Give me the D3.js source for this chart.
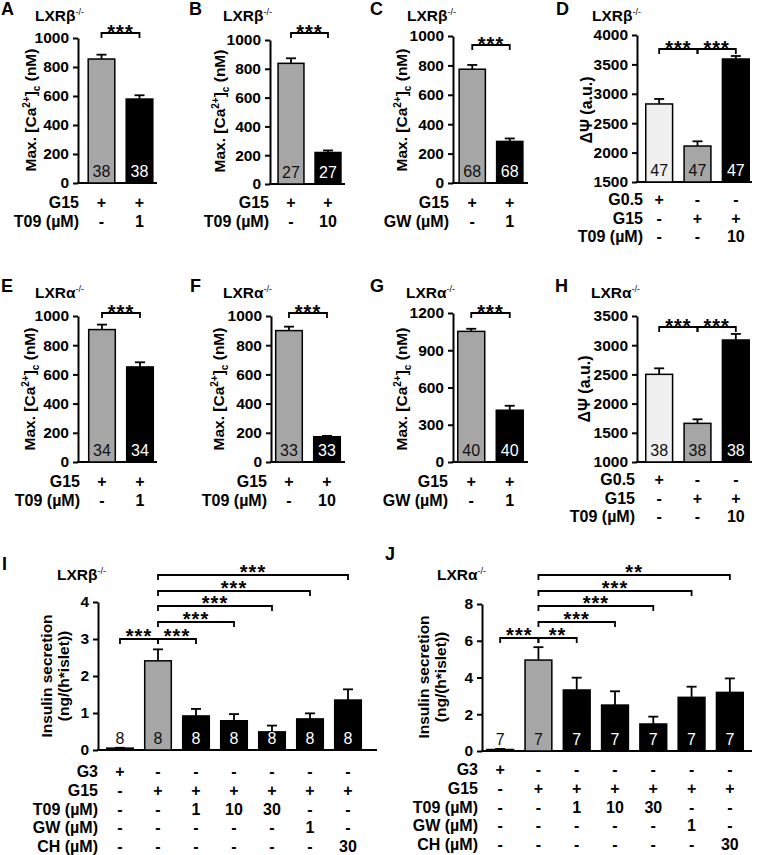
<!DOCTYPE html>
<html>
<head>
<meta charset="utf-8">
<script src="https://cdn.jsdelivr.net/npm/d3@7"></script>
<style>
  body { margin: 0; background: #fff; }
  svg text { font-family: "Liberation Sans", Arial, sans-serif; }
</style>
</head>
<body>
<script>
// ---- data ----
const valuesA = [855, 579], errorsA = [30, 26], nA = [38, 38];
const valuesB = [838, 219], errorsB = [35, 14], nB = [27, 27];
const valuesC = [774, 283], errorsC = [29, 20], nC = [68, 68];
const valuesD = [2827, 2112, 3592], errorsD = [85, 80, 51], nD = [47, 47, 47];
const valuesE = [907, 651], errorsE = [34, 32], nE = [34, 34];
const valuesF = [900, 173], errorsF = [27, 6], nF = [33, 33];
const valuesG = [1052, 417], errorsG = [21, 36], nG = [40, 40];
const valuesH = [2501, 1662, 3089], errorsH = [103, 69, 103], nH = [38, 38, 38];
const valuesI = [0.05, 2.41, 0.92, 0.79, 0.49, 0.84, 1.35];
const errorsI = [0.01, 0.31, 0.19, 0.18, 0.17, 0.15, 0.29];
const nI = [8, 8, 8, 8, 8, 8, 8];
const valuesJ = [0.08, 4.95, 3.32, 2.5, 1.47, 2.92, 3.19];
const errorsJ = [0.03, 0.7, 0.67, 0.75, 0.4, 0.58, 0.76];
const nJ = [7, 7, 7, 7, 7, 7, 7];

const ticksCa = [0, 200, 400, 600, 800, 1000];
const ticksG = [0, 300, 600, 900, 1200];
const ticksD = [1500, 2000, 2500, 3000, 3500, 4000];
const ticksH = [1000, 1500, 2000, 2500, 3000, 3500];
const ticksI = [0, 1, 2, 3, 4];
const ticksJ = [0, 2, 4, 6, 8];

const rowNames2 = ['G15', 'T09 (µM)'];
const rowNamesGW = ['G15', 'GW (µM)'];
const rowNames3 = ['G0.5', 'G15', 'T09 (µM)'];
const rowNames7 = ['G3', 'G15', 'T09 (µM)', 'GW (µM)', 'CH (µM)'];
const cellsT1 = [['+', '+'], ['-', '1']];
const cellsT10 = [['+', '+'], ['-', '10']];
const cellsGW = [['+', '+'], ['-', '1']];
const cells3 = [['+', '-', '-'], ['-', '+', '+'], ['-', '-', '10']];
const cells7 = [
  ['+', '-', '-', '-', '-', '-', '-'],
  ['-', '+', '+', '+', '+', '+', '+'],
  ['-', '-', '1', '10', '30', '-', '-'],
  ['-', '-', '-', '-', '-', '1', '-'],
  ['-', '-', '-', '-', '-', '-', '30']
];

const colors2 = ['gray', 'black'];
const colors3 = ['light', 'gray', 'black'];
const colors7 = ['black', 'gray', 'black', 'black', 'black', 'black', 'black'];

const sig2 = [{from: 0, to: 1, label: '***', level: 0}];
const sig3 = [{from: 0, to: 1, label: '***', level: 0}, {from: 1, to: 2, label: '***', level: 0}];
const sigI = [
  {from: 0, to: 1, label: '***', level: 0}, {from: 1, to: 2, label: '***', level: 0},
  {from: 1, to: 3, label: '***', level: 1}, {from: 1, to: 4, label: '***', level: 2},
  {from: 1, to: 5, label: '***', level: 3}, {from: 1, to: 6, label: '***', level: 4}
];
const sigJ = [
  {from: 0, to: 1, label: '***', level: 0}, {from: 1, to: 2, label: '**', level: 0},
  {from: 1, to: 3, label: '***', level: 1}, {from: 1, to: 4, label: '***', level: 2},
  {from: 1, to: 5, label: '***', level: 3}, {from: 1, to: 6, label: '**', level: 4}
];

// ---- styles / layout ----
const fills = {light: '#f0f0f0', gray: '#a6a6a6', black: '#000'};

const panels = [
  {letter: 'A', ko: 'β', v: valuesA, e: errorsA, n: nA, c: colors2, rows: rowNames2, cells: cellsT1, sig: sig2,
   domain: [0, 1000], ticks: ticksCa, ylab: 'ca',
   x0: 78, band: [82.5, 158.5], yr: [183, 38], baseEnd: 157, sigY: [33], let: [1, 15], tit: [35, 21],
   rowX: 79, rowY0: 208, rowStep: 19, ylabX: 36, ylabY: 110},
  {letter: 'B', ko: 'β', v: valuesB, e: errorsB, n: nB, c: colors2, rows: rowNames2, cells: cellsT10, sig: sig2,
   domain: [0, 1000], ticks: ticksCa, ylab: 'ca',
   x0: 270, band: [272.5, 346.5], yr: [184, 40], baseEnd: 345, sigY: [33], let: [189, 15], tit: [223, 21],
   rowX: 269, rowY0: 208, rowStep: 19, ylabX: 225, ylabY: 111},
  {letter: 'C', ko: 'β', v: valuesC, e: errorsC, n: nC, c: colors2, rows: rowNamesGW, cells: cellsGW, sig: sig2,
   domain: [0, 1000], ticks: ticksCa, ylab: 'ca',
   x0: 453, band: [453.5, 528.5], yr: [183, 36], baseEnd: 528, sigY: [45], let: [370, 15], tit: [407, 21],
   rowX: 449, rowY0: 208, rowStep: 19, ylabX: 407, ylabY: 110},
  {letter: 'D', ko: 'β', v: valuesD, e: errorsD, n: nD, c: colors3, rows: rowNames3, cells: cells3, sig: sig3,
   domain: [1500, 4000], ticks: ticksD, ylab: 'psi',
   x0: 637, band: [640, 755], yr: [182, 35], baseEnd: 752, sigY: [49], let: [556, 15], tit: [592, 21],
   rowX: 643, rowY0: 205, rowStep: 18.5, ylabX: 592, ylabY: 110},
  {letter: 'E', ko: 'α', v: valuesE, e: errorsE, n: nE, c: colors2, rows: rowNames2, cells: cellsT1, sig: sig2,
   domain: [0, 1000], ticks: ticksCa, ylab: 'ca',
   x0: 78, band: [83, 159], yr: [462, 316], baseEnd: 157, sigY: [313], let: [1, 292], tit: [35, 298],
   rowX: 80, rowY0: 487, rowStep: 18.5, ylabX: 35, ylabY: 389},
  {letter: 'F', ko: 'α', v: valuesF, e: errorsF, n: nF, c: colors2, rows: rowNames2, cells: cellsT10, sig: sig2,
   domain: [0, 1000], ticks: ticksCa, ylab: 'ca',
   x0: 271, band: [270, 346], yr: [462, 316], baseEnd: 345, sigY: [313], let: [190, 292], tit: [223, 298],
   rowX: 267, rowY0: 487, rowStep: 18.5, ylabX: 224, ylabY: 389},
  {letter: 'G', ko: 'α', v: valuesG, e: errorsG, n: nG, c: colors2, rows: rowNamesGW, cells: cellsGW, sig: sig2,
   domain: [0, 1200], ticks: ticksG, ylab: 'ca',
   x0: 453, band: [452, 529], yr: [462, 313], baseEnd: 528, sigY: [313], let: [370, 292], tit: [406, 298],
   rowX: 448, rowY0: 487, rowStep: 18.5, ylabX: 407, ylabY: 389},
  {letter: 'H', ko: 'α', v: valuesH, e: errorsH, n: nH, c: colors3, rows: rowNames3, cells: cells3, sig: sig3,
   domain: [1000, 3500], ticks: ticksH, ylab: 'psi',
   x0: 637, band: [640, 755], yr: [462, 316], baseEnd: 752, sigY: [327], let: [555, 292], tit: [591, 298],
   rowX: 635, rowY0: 485, rowStep: 18.5, ylabX: 590, ylabY: 389},
  {letter: 'I', ko: 'β', v: valuesI, e: errorsI, n: nI, c: colors7, rows: rowNames7, cells: cells7, sig: sigI,
   domain: [0, 4], ticks: ticksI, ylab: 'ins',
   x0: 98, band: [101, 367], yr: [750, 602], baseEnd: 377, sigY: [639, 622, 606, 591, 575], let: [2, 570], tit: [57, 580],
   rowX: 98, rowY0: 777, rowStep: 18.75, ylabX: [52, 69], ylabY: 676, starDy: 4},
  {letter: 'J', ko: 'α', v: valuesJ, e: errorsJ, n: nJ, c: colors7, rows: rowNames7, cells: cells7, sig: sigJ,
   domain: [0, 8], ticks: ticksJ, ylab: 'ins',
   x0: 482, band: [481, 749], yr: [751, 604], baseEnd: 752, sigY: [638, 622, 606, 591, 575], let: [385, 560], tit: [437, 580],
   rowX: 478, rowY0: 775, rowStep: 18.75, ylabX: [429, 446], ylabY: 677, starDy: 4}
];

const svg = d3.select('body').append('svg')
  .attr('width', 758).attr('height', 855)
  .style('display', 'block');

svg.append('rect').attr('width', 758).attr('height', 855).attr('fill', '#fff');

function drawPanel(p) {
  const g = svg.append('g');
  const x = d3.scaleBand().domain(d3.range(p.v.length)).range(p.band)
    .paddingInner(0.3).paddingOuter(0.15);
  const y = d3.scaleLinear().domain(p.domain).range(p.yr);
  const cx = i => x(i) + x.bandwidth() / 2;
  const y0 = y(p.domain[0]);

  // y axis
  const gy = g.append('g')
    .attr('transform', `translate(${p.x0},0)`)
    .call(d3.axisLeft(y).tickValues(p.ticks).tickFormat(d3.format('d'))
      .tickSize(5).tickSizeOuter(0).tickPadding(4));
  gy.attr('font-family', null).attr('font-size', 15.5).attr('font-weight', 'bold');
  gy.selectAll('text').attr('fill', '#000');
  gy.selectAll('line, path').attr('stroke', '#000').attr('stroke-width', 2);

  // baseline
  g.append('line')
    .attr('x1', p.x0 - 1).attr('x2', p.baseEnd)
    .attr('y1', y0).attr('y2', y0)
    .attr('stroke', '#000').attr('stroke-width', 2);

  // bars
  g.selectAll('rect.bar').data(p.v).enter().append('rect')
    .attr('class', 'bar')
    .attr('x', (d, i) => x(i))
    .attr('y', d => y(d))
    .attr('width', x.bandwidth())
    .attr('height', d => y0 - y(d))
    .attr('fill', (d, i) => fills[p.c[i]])
    .attr('stroke', '#000').attr('stroke-width', 1.5);

  // error bars (upper only)
  const err = g.append('g').attr('stroke', '#000').attr('stroke-width', 1.8);
  p.v.forEach((d, i) => {
    const top = y(d + p.e[i]);
    err.append('line').attr('x1', cx(i)).attr('x2', cx(i)).attr('y1', y(d)).attr('y2', top);
    err.append('line').attr('x1', cx(i) - 5).attr('x2', cx(i) + 5).attr('y1', top).attr('y2', top);
  });

  // n labels
  g.selectAll('text.n').data(p.n).enter().append('text')
    .attr('class', 'n')
    .attr('x', (d, i) => cx(i))
    .attr('y', y0 - 6)
    .attr('text-anchor', 'middle')
    .attr('font-size', 16)
    .attr('fill', (d, i) => (p.c[i] === 'black' && y0 - y(p.v[i]) > 18) ? '#fff' : '#111')
    .text(d => d);

  // significance brackets
  p.sig.forEach(s => {
    const yb = p.sigY[s.level];
    const xa = cx(s.from), xb = cx(s.to);
    g.append('path')
      .attr('d', `M${xa},${yb + 5}V${yb}H${xb}V${yb + 5}`)
      .attr('fill', 'none').attr('stroke', '#000').attr('stroke-width', 1.8);
    g.append('text')
      .attr('x', (xa + xb) / 2)
      .attr('y', yb + (p.starDy != null ? p.starDy : 6))
      .attr('text-anchor', 'middle')
      .attr('font-size', 20).attr('font-weight', 'bold')
      .attr('letter-spacing', 1)
      .text(s.label);
  });

  // condition rows
  p.rows.forEach((name, r) => {
    const yy = p.rowY0 + r * p.rowStep;
    g.append('text')
      .attr('x', p.rowX).attr('y', yy)
      .attr('text-anchor', 'end')
      .attr('font-size', 16).attr('font-weight', 'bold')
      .text(name);
    p.cells[r].forEach((c, i) => {
      g.append('text')
        .attr('x', cx(i)).attr('y', yy)
        .attr('text-anchor', 'middle')
        .attr('font-size', 16).attr('font-weight', 'bold')
        .text(c);
    });
  });

  // y label
  if (p.ylab === 'ca') {
    const t = g.append('text')
      .attr('transform', `translate(${p.ylabX},${p.ylabY}) rotate(-90)`)
      .attr('text-anchor', 'middle')
      .attr('font-size', 15.5).attr('font-weight', 'bold');
    t.append('tspan').text('Max. [Ca');
    t.append('tspan').attr('dy', -6).attr('font-size', 10).text('2+');
    t.append('tspan').attr('dy', 6).text(']');
    t.append('tspan').attr('dy', 4).attr('font-size', 10).text('c');
    t.append('tspan').attr('dy', -4).text(' (nM)');
  } else if (p.ylab === 'psi') {
    g.append('text')
      .attr('transform', `translate(${p.ylabX},${p.ylabY}) rotate(-90)`)
      .attr('text-anchor', 'middle')
      .attr('font-size', 16).attr('font-weight', 'bold')
      .text('ΔΨ (a.u.)');
  } else {
    ['Insulin secretion', '(ng/(h*islet))'].forEach((s, k) => {
      g.append('text')
        .attr('transform', `translate(${p.ylabX[k]},${p.ylabY}) rotate(-90)`)
        .attr('text-anchor', 'middle')
        .attr('font-size', 15.5).attr('font-weight', 'bold')
        .text(s);
    });
  }

  // panel letter and genotype title
  g.append('text')
    .attr('x', p.let[0]).attr('y', p.let[1])
    .attr('font-size', 18).attr('font-weight', 'bold')
    .text(p.letter);
  const tt = g.append('text')
    .attr('x', p.tit[0]).attr('y', p.tit[1])
    .attr('font-size', 15.5).attr('font-weight', 'bold');
  tt.append('tspan').text('LXR' + p.ko);
  tt.append('tspan').attr('dy', -6).attr('font-size', 9).attr('font-weight', 'normal').text('-/-');
}

panels.forEach(drawPanel);
</script>
</body>
</html>
